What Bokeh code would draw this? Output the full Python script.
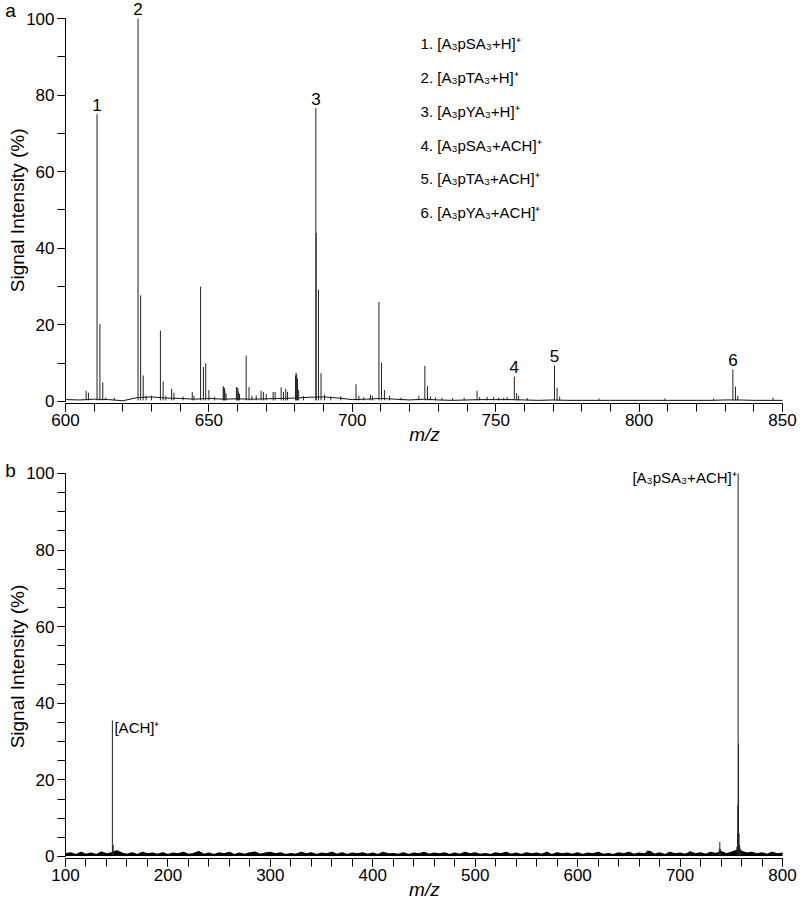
from bokeh.plotting import figure
from bokeh.models import Label, LabelSet, ColumnDataSource, FixedTicker
from bokeh.layouts import column
from bokeh.core.properties import value
from bokeh.embed import file_html
from bokeh.resources import INLINE

FONT = "Liberation Sans"

# ---------------- panel a data ----------------
top_peak_mz = [607.2, 608.0, 611.0, 612.0, 613.0, 614.0, 625.3, 626.2, 627.1, 628.1,
               630.0, 633.1, 634.05, 635.0, 637.0, 637.8, 644.2, 644.8, 647.1, 648.1,
               648.9, 650.0, 655.0, 655.2, 655.4, 655.6, 656.0, 659.6, 659.8, 660.1,
               660.3, 660.7, 663.0, 664.0, 665.0, 668.2, 669.0, 670.0, 672.4, 673.1,
               675.2, 676.0, 676.8, 677.4, 680.2, 680.4, 680.6, 680.9, 681.3, 687.3,
               687.4, 688.2, 689.1, 690.3, 701.3, 702.3, 706.3, 707.0, 709.3, 710.2,
               711.2, 723.2, 725.3, 726.2, 727.3, 731.3, 743.5, 744.4, 749.3, 751.0,
               752.8, 756.5, 757.3, 758.0, 770.5, 771.4, 772.3, 832.7, 833.6, 834.4,
               846.7, 617.0, 641.0, 652.0, 666.5, 683.0, 692.5, 696.0, 704.0, 713.0,
               717.0, 729.0, 735.0, 739.0, 747.0, 754.0, 761.0, 786.0, 809.0, 826.0]
top_peak_int = [2.8, 2.3, 75.0, 20.2, 5.0, 1.0, 100.0, 27.7, 6.8, 1.5,
                1.5, 18.5, 5.2, 1.5, 3.3, 2.3, 2.5, 1.5, 30.0, 9.0,
                10.0, 3.0, 4.0, 3.8, 3.5, 2.8, 2.0, 3.8, 3.6, 3.5,
                2.6, 2.0, 12.0, 3.8, 1.5, 2.8, 2.5, 2.0, 2.5, 2.5,
                3.7, 2.5, 3.3, 2.5, 6.8, 7.5, 7.0, 6.0, 3.0, 76.6,
                44.0, 29.2, 7.4, 1.8, 4.5, 1.5, 1.8, 1.5, 26.0, 10.1,
                3.0, 1.5, 9.3, 4.0, 1.3, 1.0, 2.8, 1.2, 1.2, 1.0,
                1.0, 6.5, 2.2, 1.5, 9.4, 3.6, 1.3, 8.4, 3.9, 1.5,
                1.0, 1.0, 1.3, 1.2, 1.6, 1.4, 1.3, 1.4, 1.1, 1.5,
                1.0, 1.1, 0.9, 1.0, 1.2, 1.1, 0.9, 0.8, 0.8, 0.8]

top_base_mz = [600, 605, 610, 615, 620, 625, 630, 635, 640, 645,
               650, 655, 660, 665, 670, 675, 680, 685, 690, 695,
               700, 705, 710, 715, 720, 725, 730, 735, 740, 745,
               750, 755, 760, 765, 770, 775, 780, 785, 790, 795,
               800, 805, 810, 815, 820, 825, 830, 835, 840, 845, 850]
top_base_int = [0.5, 0.4, 0.6, 0.5, 0.2, 1.0, 1.2, 0.9, 0.8, 0.6,
                0.8, 0.6, 0.7, 0.6, 0.7, 0.8, 0.9, 1.1, 1.2, 0.9,
                0.5, 0.6, 0.8, 0.6, 0.4, 0.6, 0.4, 0.3, 0.4, 0.5,
                0.5, 0.5, 0.4, 0.3, 0.4, 0.3, 0.3, 0.3, 0.3, 0.3,
                0.3, 0.3, 0.3, 0.3, 0.3, 0.3, 0.4, 0.4, 0.3, 0.3, 0.3]

top_label_text = ["1", "2", "3", "4", "5", "6"]
top_label_mz = [611.0, 625.3, 687.3, 756.5, 770.5, 832.7]
top_label_int = [75.0, 100.0, 76.6, 6.5, 9.4, 8.4]

legend_text = ["1. [A\u2083pSA\u2083+H]\u207A", "2. [A\u2083pTA\u2083+H]\u207A",
               "3. [A\u2083pYA\u2083+H]\u207A", "4. [A\u2083pSA\u2083+ACH]\u207A",
               "5. [A\u2083pTA\u2083+ACH]\u207A", "6. [A\u2083pYA\u2083+ACH]\u207A"]
legend_y = [93.5, 84.6, 75.7, 66.8, 58.2, 49.3]

# ---------------- panel b data ----------------
bot_peak_mz = [145.8, 146.6, 738.3, 738.8, 739.3, 755.5, 756.2, 756.4, 756.7, 757.0,
               757.6, 758.2, 759.0, 668.0, 710.0]
bot_peak_int = [35.5, 3.0, 2.0, 3.8, 2.0, 2.5, 6.0, 13.5, 100.0, 29.5,
                6.0, 3.0, 2.0, 1.6, 1.4]

bot_noise_mz = list(range(100, 801, 5))
bot_noise_int = [
    0.6, 0.9, 0.4, 1.0, 0.5, 0.8, 0.4, 1.1, 0.6, 0.9,
    1.4, 0.8, 0.5, 0.9, 0.4, 1.0, 0.6, 0.8, 0.5, 0.9,
    0.4, 0.8, 0.6, 1.0, 0.5, 0.7, 1.2, 0.5, 0.8, 0.4,
    0.9, 0.6, 1.0, 0.4, 0.8, 0.5, 0.9, 1.1, 0.5, 0.8,
    1.0, 0.6, 0.9, 0.4, 0.7, 0.5, 1.0, 0.6, 0.9, 0.4,
    0.8, 0.6, 1.0, 0.5, 0.9, 0.4, 0.8, 0.6, 0.9, 0.5,
    0.8, 0.4, 1.0, 0.6, 0.7, 0.5, 0.9, 0.4, 0.8, 0.6,
    1.0, 0.5, 0.8, 0.6, 0.9, 0.4, 0.8, 0.5, 1.0, 0.6,
    0.9, 0.5, 0.7, 0.4, 0.9, 0.6, 1.0, 0.5, 0.8, 0.4,
    0.9, 0.6, 0.8, 0.5, 1.0, 0.4, 0.9, 0.6, 0.8, 0.5,
    0.9, 0.4, 0.8, 0.6, 1.0, 0.5, 0.7, 0.4, 0.9, 0.6,
    1.0, 0.5, 0.8, 0.6, 1.3, 0.5, 0.9, 0.4, 1.0, 0.6,
    0.8, 0.5, 1.1, 0.6, 0.9, 0.5, 1.0, 0.7, 1.2, 0.6,
    1.0, 1.5, 1.3, 0.8, 1.0, 0.6, 0.9, 0.5, 1.0, 0.6,
    0.8]

top_xticks = [600, 650, 700, 750, 800, 850]
bot_xticks = [100, 200, 300, 400, 500, 600, 700, 800]
y_ticks = [0, 20, 40, 60, 80, 100]


def style_axes(p, xticks, xminor, yminor, xbounds):
    p.xaxis.ticker = FixedTicker(ticks=xticks, minor_ticks=xminor)
    p.yaxis.ticker = FixedTicker(ticks=y_ticks, minor_ticks=yminor)
    p.xaxis.fixed_location = -0.5
    p.yaxis.fixed_location = xbounds[0]
    p.xaxis.bounds = xbounds
    p.yaxis.bounds = (0, 100)
    for ax in (p.xaxis[0], p.yaxis[0]):
        ax.major_tick_in = 0
        ax.major_tick_out = 8
        ax.minor_tick_in = 0
        ax.minor_tick_out = 8
        ax.axis_line_color = "black"
        ax.major_tick_line_color = "black"
        ax.minor_tick_line_color = "black"
        ax.major_label_text_font = FONT
        ax.major_label_text_font_size = "17px"
        ax.major_label_text_color = "black"
        ax.major_label_standoff = 3
    p.xgrid.visible = False
    p.ygrid.visible = False
    p.outline_line_color = None


def add_text(p, x, y, text, size="17px", align="center", baseline="middle",
             angle=0, style="normal"):
    p.add_layout(Label(x=x, y=y, text=text, text_font=FONT, text_font_size=size,
                       text_align=align, text_baseline=baseline, angle=angle,
                       text_font_style=style, text_color="black"))


# ---------------- panel a ----------------
p1 = figure(width=800, height=445, x_range=(577.34, 856.28), y_range=(-11.49, 104.70),
            output_backend="svg", toolbar_location=None, title=None,
            min_border=0, min_border_left=0, min_border_right=0,
            min_border_top=0, min_border_bottom=0)
style_axes(p1, top_xticks, list(range(600, 851, 10)), list(range(0, 101, 10)), (600, 850))

p1.line(top_base_mz, top_base_int, line_color="#111111", line_width=1)
p1.segment(x0=top_peak_mz, y0=[0.3] * len(top_peak_mz), x1=top_peak_mz, y1=top_peak_int,
           line_color="#222222", line_width=1)

src_lab = ColumnDataSource(dict(x=top_label_mz, y=[v + 0.9 for v in top_label_int], t=top_label_text))
p1.add_layout(LabelSet(x="x", y="y", text="t", source=src_lab, text_font=value(FONT),
                       text_font_size="17px", text_align="center",
                       text_baseline="alphabetic", text_color="black"))

src_leg = ColumnDataSource(dict(x=[723.8] * len(legend_text), y=legend_y, t=legend_text))
p1.add_layout(LabelSet(x="x", y="y", text="t", source=src_leg, text_font=value(FONT),
                       text_font_size="15px", text_align="left",
                       text_baseline="middle", text_color="black"))

add_text(p1, 583.27, 49.9, "Signal Intensity (%)", size="19px", angle=1.5707963)
add_text(p1, 725.18, -8.6, "m/z", size="19px", style="italic")
add_text(p1, 580.83, 102.1, "a", size="19px")

# ---------------- panel b ----------------
p2 = figure(width=800, height=454, x_range=(36.55, 817.57), y_range=(-11.23, 107.31),
            output_backend="svg", toolbar_location=None, title=None,
            min_border=0, min_border_left=0, min_border_right=0,
            min_border_top=0, min_border_bottom=0)
style_axes(p2, bot_xticks, list(range(100, 801, 20)), list(range(0, 101, 5)), (100, 800))

p2.varea(x=bot_noise_mz, y1=0.1, y2=bot_noise_int, fill_color="#000000")
p2.line(bot_noise_mz, bot_noise_int, line_color="#000000", line_width=1.8)
p2.segment(x0=bot_peak_mz, y0=[0.3] * len(bot_peak_mz), x1=bot_peak_mz, y1=bot_peak_int,
           line_color="#222222", line_width=1)

add_text(p2, 147.8, 36.0, "[ACH]\u207A", size="15px", align="left", baseline="top")
add_text(p2, 755.3, 101.3, "[A\u2083pSA\u2083+ACH]\u207A", size="15px", align="right", baseline="top")
add_text(p2, 53.15, 49.6, "Signal Intensity (%)", size="19px", angle=1.5707963)
add_text(p2, 450.4, -8.6, "m/z", size="19px", style="italic")
add_text(p2, 46.31, 100.8, "b", size="19px")

layout = column(p1, p2)
open("out.html", "w").write(file_html(layout, INLINE))
